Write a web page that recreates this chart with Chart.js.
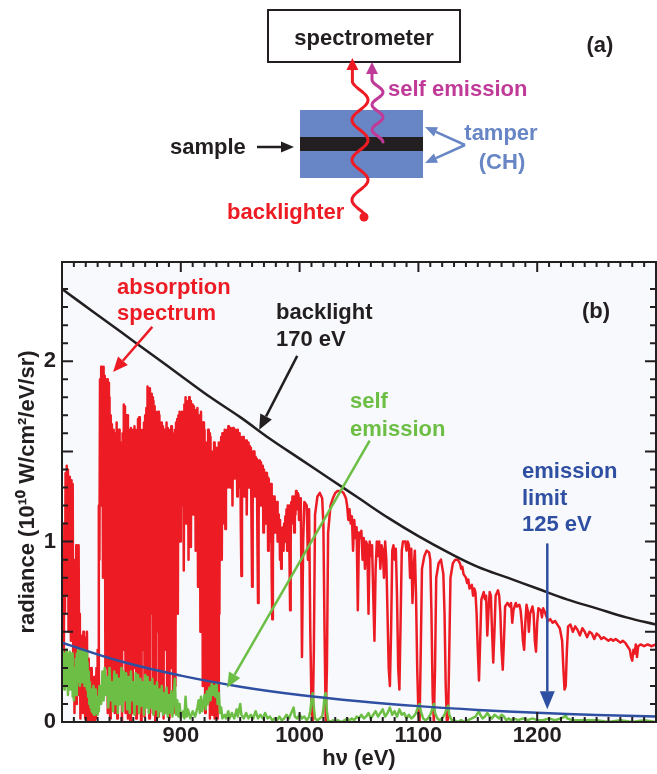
<!DOCTYPE html>
<html>
<head>
<meta charset="utf-8">
<script src="https://cdn.jsdelivr.net/npm/chart.js@4.4.1/dist/chart.umd.min.js"></script>
<style>
html, body { margin: 0; padding: 0; background: #fff; }
#wrap { position: relative; width: 657px; height: 774px; overflow: hidden; }
#chart { position: absolute; left: 0; top: 0; }
#scheme { position: absolute; left: 0; top: 0; }
#scheme text { font-family: 'Liberation Sans', Arial, Helvetica, sans-serif; font-weight: bold; font-size: 22px; }
</style>
</head>
<body>
<div id="wrap">
<canvas id="chart" width="657" height="774"></canvas>
<svg id="scheme" width="657" height="232" xmlns="http://www.w3.org/2000/svg">
  <rect x="268" y="10" width="192" height="52" fill="#fff" stroke="#231f20" stroke-width="2"/>
  <text x="364" y="45" text-anchor="middle" fill="#231f20">spectrometer</text>
  <text x="600" y="52" text-anchor="middle" fill="#231f20">(a)</text>
  <rect x="300" y="110" width="123" height="68" fill="#6886c5"/>
  <rect x="300" y="137" width="123" height="14" fill="#231f20"/>
  <text x="170" y="154" fill="#231f20">sample</text>
  <text x="388" y="96" fill="#c03b98">self emission</text>
  <text x="501" y="140" text-anchor="middle" fill="#6886c5">tamper</text>
  <text x="502" y="169" text-anchor="middle" fill="#6886c5">(CH)</text>
  <text x="227" y="219" fill="#ed1c24">backlighter</text>
  <circle cx="364" cy="217" r="4.5" fill="#ed1c24"/>
</svg>
</div>
<script>
// x axis / y axis labels
const xTickLabels = [900, 1000, 1100, 1200];
const yTickLabels = [0, 1, 2];

// backlight 170 eV curve [eV, radiance]
const backlight = [
  [800, 2.40], [825, 2.28], [850, 2.16], [875, 2.04], [900, 1.92], [925, 1.80], [950, 1.69],
  [975, 1.57], [1000, 1.46], [1025, 1.35], [1050, 1.24], [1075, 1.13], [1100, 1.03], [1125, 0.94],
  [1150, 0.86], [1175, 0.80], [1200, 0.74], [1225, 0.68], [1250, 0.63], [1275, 0.58], [1300, 0.54]
];

// emission limit 125 eV curve
const emissionLimit = [
  [800, 0.44], [850, 0.335], [900, 0.257], [950, 0.196], [1000, 0.150], [1050, 0.115],
  [1100, 0.088], [1150, 0.067], [1200, 0.051], [1250, 0.039], [1300, 0.030]
];

// absorption spectrum (red)
const absorption = [
[800,0.95],[800.5,0.40],[801,0.90],[801.5,0.30],[802,1.10],[802.5,0.60],[803,1.38],[803.5,0.90],[804,1.42],[804.5,0.70],
[805,1.40],[805.5,0.50],[806,1.36],[806.5,0.95],[807,1.30],[807.5,0.45],[808,1.34],[808.5,0.60],[809,1.32],[809.5,0.20],
[810,0.90],[810.5,0.05],[811,0.85],[811.5,0.30],[812,0.98],[812.5,0.10],[813,0.96],[813.5,0.40],[814,0.98],[814.5,0.15],
[815,0.60],[815.5,0.02],[816,0.45],[816.5,0.10],[817,0.48],[817.5,0.05],[818,0.50],[818.5,0.20],[819,0.47],[819.5,0.02],
[820,0.45],[820.5,0.15],[821,0.50],[821.5,0.00],[822,0.35],[822.5,0.05],[823,0.30],[823.5,0.00],[824,0.28],[824.5,0.10],
[825,0.30],[825.5,0.00],[826,0.20],[826.5,0.05],[827,0.25],[827.5,0.00],[828,0.22],[828.5,0.02],[829,0.30],[829.5,0.05],
[830,0.40],[830.5,0.10],[831,1.20],[831.5,0.90],
[832,1.90],[832.5,1.20],[833,1.97],[833.5,1.40],[834,1.95],[834.5,0.80],[835,1.97],[835.5,1.50],[836,1.92],[836.5,0.30],
[837,1.85],[837.5,1.10],[838,1.90],[838.5,0.05],[839,1.88],[839.5,0.60],[840,1.80],[840.5,0.02],[841,1.70],[841.5,1.00],
[842,1.65],[842.5,0.20],[843,1.62],[843.5,0.90],[844,1.60],[844.5,0.05],[845,1.55],[845.5,0.50],[846,1.66],[846.5,0.02],
[847,1.62],[847.5,1.10],[848,1.62],[848.5,0.10],[849,1.50],[849.5,0.70],[850,1.55],[850.5,0.00],[851,1.60],[851.5,0.40],
[852,1.76],[852.5,1.20],[853,1.75],[853.5,0.05],[854,1.70],[854.5,0.80],[855,1.70],[855.5,0.02],[856,1.62],[856.5,0.60],
[857,1.60],[857.5,0.00],[858,1.63],[858.5,1.00],[859,1.55],[859.5,0.05],[860,1.62],[860.5,0.30],[861,1.64],[861.5,1.10],
[862,1.62],[862.5,0.02],[863,1.60],[863.5,0.70],[864,1.68],[864.5,0.05],[865,1.69],[865.5,0.90],[866,1.62],[866.5,0.00],
[867,1.55],[867.5,0.40],[868,1.62],[868.5,1.20],[869,1.66],[869.5,0.03],[870,1.70],[870.5,0.80],[871,1.74],[871.5,0.10],
[872,1.86],[872.5,1.30],[873,1.84],[873.5,0.02],[874,1.85],[874.5,0.60],[875,1.82],[875.5,1.10],[876,1.80],[876.5,0.05],
[877,1.78],[877.5,0.90],[878,1.75],[878.5,0.00],[879,1.72],[879.5,0.50],[880,1.70],[880.5,1.20],[881,1.72],[881.5,0.03],
[882,1.70],[882.5,0.80],[883,1.66],[883.5,0.10],[884,1.66],[884.5,1.00],[885,1.64],[885.5,0.02],[886,1.62],[886.5,0.40],
[887,1.60],[887.5,1.10],[888,1.66],[888.5,0.05],[889,1.63],[889.5,0.70],[890,1.60],[890.5,0.02],[891,1.62],[891.5,1.20],
[892,1.64],[892.5,0.30],[893,1.60],[893.5,0.05],[894,1.58],[894.5,0.90],[895,1.62],[895.5,0.20],[896,1.66],[896.5,1.30],
[897,1.68],[897.5,0.60],[898,1.70],[898.5,1.40],[899,1.72],[899.5,1.00],
[900,1.70],[900.5,1.20],[901,1.72],[901.5,1.45],[902,1.60],[902.5,0.84],[903,1.76],[903.5,1.30],[904,1.80],[904.5,1.10],
[905,1.78],[905.5,1.50],[906,1.75],[906.5,0.90],[907,1.80],[907.5,1.35],[908,1.78],[908.5,0.97],[909,1.76],[909.5,1.40],
[910,1.76],[910.5,1.15],[911,1.75],[911.5,1.50],[912,1.72],[912.5,0.95],[913,1.73],[913.5,1.30],[914,1.74],[914.5,0.75],
[915,1.70],[915.5,1.20],[916,1.70],[916.5,0.50],[917,1.72],[917.5,1.00],[918,1.66],[918.5,0.20],[919,1.66],[919.5,0.80],
[920,1.62],[920.5,0.05],[921,1.55],[921.5,0.40],[922,1.55],[922.5,0.10],[923,1.62],[923.5,0.60],[924,1.60],[924.5,0.02],
[925,1.58],[925.5,0.30],[926,1.50],[926.5,0.04],[927,1.50],[927.5,0.50],[928,1.55],[928.5,0.02],[929,1.52],[929.5,0.20],
[930,1.52],[930.5,0.02],[931,1.45],[931.5,0.10],[932,1.55],[932.5,0.60],[933,1.55],[933.5,1.00],[934,1.58],[934.5,0.90],
[935,1.60],[935.5,1.25],[936,1.60],[936.5,1.10],[937,1.62],[937.5,1.07],[938,1.60],[938.5,1.40],[939,1.62],[939.5,1.30],
[940,1.64],[940.5,1.40],[941,1.62],[941.5,1.30],[942,1.63],[942.5,1.48],[943,1.62],[943.5,1.20],[944,1.63],[944.5,1.45],
[945,1.60],[945.5,1.35],[946,1.62],[946.5,1.50],[947,1.60],[947.5,1.25],[948,1.62],[948.5,1.45],[949,1.60],[949.5,1.30],
[950,1.58],[950.5,1.10],[951,0.81],[951.5,1.20],[952,1.58],[952.5,1.40],[953,1.58],[953.5,1.25],[954,1.56],[954.5,1.45],
[955,1.56],[955.5,1.15],[956,1.55],[956.5,1.40],[957,1.55],[957.5,1.30],[958,1.53],[958.5,1.45],[959,1.52],[959.5,1.10],
[960,0.75],[960.5,1.20],[961,1.50],[961.5,1.35],[962,1.50],[962.5,1.25],[963,1.47],[963.5,1.38],[964,1.46],[964.5,1.00],
[965,0.66],[965.5,1.10],[966,1.45],[966.5,1.30],[967,1.44],[967.5,1.20],[968,1.42],[968.5,1.35],[969,1.42],[969.5,1.05],
[970,1.40],[970.5,1.30],[971,1.38],[971.5,1.10],[972,1.38],[972.5,1.25],[973,1.36],[973.5,0.95],[974,1.35],[974.5,1.20],
[975,1.32],[975.5,1.00],[976,1.32],[976.5,0.80],[977,0.57],[977.5,0.90],[978,1.25],[978.5,1.10],[979,1.25],[979.5,1.05],
[980,1.20],[980.5,1.12],[981,1.22],[981.5,1.00],[982,1.15],[982.5,1.05],[983,1.12],[983.5,0.90],[984,1.08],[984.5,0.85],
[985,1.06],[985.5,0.97],[986,1.08],[986.5,0.95],[987,1.10],[987.5,1.00],[988,1.14],[988.5,1.05],[989,1.18],[989.5,0.95],
[990,1.20],[990.5,1.10],[991,1.20],[991.5,0.90],[992,0.62],[992.5,1.00],[993,1.22],[993.5,1.10],[994,1.25],[994.5,1.15],
[995,1.25],[995.5,1.05],[996,1.22],[996.5,1.15],[997,1.28],[997.5,1.18],[998,1.27],[998.5,1.20],[999,1.26],[999.5,1.12],
[1000,1.24],[1001,1.24],[1002,0.36],[1003,1.00],[1004,1.22],[1006,1.20],[1007,0.90],
[1008,1.18],[1009,0.50],[1010,0.10],[1011,0.00],[1012,0.40],[1013,1.15],[1015,1.25],[1017,1.27],[1019,1.24],[1020,1.10],
[1021,0.50],[1022,0.00],[1023,0.30],[1024,1.05],[1026,1.20],[1028,1.24],[1030,1.27],[1032,1.28],[1035,1.28],[1037,1.27],
[1039,1.24],[1040,1.20],[1041,1.12],[1042,1.18],[1043,1.10],[1044,1.14],[1045,0.95],[1046,1.12],[1047,1.02],[1048,1.08],
[1049,0.62],[1050,1.05],[1051,1.02],[1052,1.06],[1053,0.90],[1054,1.02],[1055,0.85],[1056,1.00],[1057,0.98],[1058,0.60],
[1059,1.00],[1060,0.92],[1061,0.98],[1062,0.70],[1063,0.45],[1064,0.85],[1065,1.00],[1066,0.92],[1067,1.00],[1068,0.85],
[1069,0.98],[1070,0.95],[1071,0.80],[1072,1.00],[1073,0.90],[1074,0.60],[1075,0.30],[1076,0.20],[1077,0.50],[1078,0.95],
[1079,0.98],[1080,0.90],[1081,0.96],[1082,0.70],[1083,0.30],[1084,0.18],[1085,0.55],[1086,0.95],[1087,1.00],[1089,1.00],
[1090,0.95],[1091,1.00],[1092,0.98],[1093,0.80],[1094,0.96],[1095,0.66],[1096,0.85],[1097,0.95],[1098,0.70],[1099,0.30],
[1100,0.05],[1101,0.00],[1102,0.40],[1103,0.85],[1105,0.92],[1107,0.95],[1109,0.94],[1110,0.90],[1111,0.60],[1112,0.15],
[1113,0.00],[1114,0.30],[1115,0.80],[1117,0.88],[1119,0.90],[1120,0.86],[1121,0.82],[1122,0.60],[1123,0.20],[1124,0.00],
[1125,0.02],[1126,0.40],[1127,0.80],[1129,0.88],[1131,0.90],[1133,0.90],[1135,0.88],[1136,0.85],[1137,0.86],[1138,0.82],
[1140,0.80],[1141,0.77],[1142,0.79],[1143,0.74],[1145,0.76],[1146,0.70],[1147,0.74],[1148,0.72],[1149,0.60],[1150,0.40],
[1151,0.23],[1152,0.45],[1153,0.68],[1155,0.72],[1156,0.68],[1157,0.70],[1158,0.48],[1159,0.62],[1160,0.72],[1161,0.70],
[1162,0.50],[1163,0.33],[1164,0.50],[1165,0.70],[1167,0.73],[1168,0.70],[1169,0.60],[1170,0.40],[1171,0.29],[1172,0.45],
[1173,0.64],[1175,0.66],[1177,0.64],[1178,0.66],[1179,0.55],[1180,0.62],[1182,0.66],[1183,0.64],[1185,0.65],[1186,0.62],
[1187,0.55],[1188,0.45],[1189,0.40],[1190,0.55],[1191,0.65],[1192,0.62],[1193,0.50],[1194,0.60],[1196,0.64],[1197,0.60],
[1198,0.45],[1199,0.39],[1200,0.55],[1201,0.63],[1203,0.62],[1204,0.58],[1205,0.63],[1207,0.60],[1209,0.56],[1211,0.57],
[1213,0.55],[1215,0.56],[1217,0.54],[1219,0.52],[1221,0.45],[1222,0.30],[1223,0.18],[1224,0.20],[1225,0.40],[1226,0.53],
[1228,0.54],[1230,0.50],[1232,0.53],[1234,0.51],[1236,0.48],[1238,0.52],[1240,0.50],[1242,0.47],[1244,0.50],[1246,0.49],
[1248,0.46],[1250,0.49],[1252,0.48],[1254,0.46],[1256,0.47],[1258,0.46],[1260,0.45],[1262,0.46],[1264,0.45],[1266,0.46],
[1268,0.45],[1270,0.44],[1272,0.45],[1274,0.44],[1276,0.42],[1278,0.40],[1279,0.36],[1280,0.34],[1281,0.40],[1282,0.38],
[1283,0.43],[1284,0.36],[1285,0.42],[1287,0.43],[1290,0.42],[1293,0.43],[1296,0.42],[1300,0.43]
];

// self emission (green)
const selfEmission = [
[800,0.28],[800.5,0.40],[801,0.22],[801.5,0.38],[802,0.18],[802.5,0.35],[803,0.25],[803.5,0.40],[804,0.20],[804.5,0.38],
[805,0.15],[805.5,0.36],[806,0.25],[806.5,0.39],[807,0.18],[807.5,0.33],[808,0.22],[808.5,0.38],[809,0.14],[809.5,0.30],
[810,0.12],[810.5,0.28],[811,0.20],[811.5,0.35],[812,0.15],[812.5,0.38],[813,0.22],[813.5,0.40],[814,0.25],[814.5,0.39],
[815,0.20],[815.5,0.37],[816,0.28],[816.5,0.40],[817,0.22],[817.5,0.38],[818,0.26],[818.5,0.40],[819,0.20],[819.5,0.36],
[820,0.25],[820.5,0.39],[821,0.18],[821.5,0.33],[822,0.14],[822.5,0.28],[823,0.10],[823.5,0.22],[824,0.08],[824.5,0.18],
[825,0.06],[825.5,0.15],[826,0.05],[826.5,0.20],[827,0.04],[827.5,0.14],[828,0.06],[828.5,0.18],[829,0.05],[829.5,0.12],
[830,0.04],[830.5,0.14],[831,0.06],[831.5,0.20],
[832,0.20],[833,0.10],[834,0.28],[835,0.12],[836,0.30],[837,0.15],[838,0.25],[839,0.08],
[840,0.30],[841,0.12],[842,0.22],[843,0.06],[844,0.28],[845,0.10],[846,0.26],[847,0.05],[848,0.24],[849,0.10],
[850,0.30],[851,0.06],[852,0.28],[853,0.12],[854,0.27],[855,0.07],[856,0.25],[857,0.05],[858,0.28],[859,0.12],
[860,0.22],[861,0.04],[862,0.27],[863,0.10],[864,0.26],[865,0.05],[866,0.24],[867,0.09],[868,0.22],[869,0.04],
[870,0.26],[871,0.08],[872,0.25],[873,0.05],[874,0.22],[875,0.08],[876,0.24],[877,0.04],[878,0.20],[879,0.07],
[880,0.22],[881,0.03],[882,0.18],[883,0.06],[884,0.20],[885,0.04],[886,0.16],[887,0.05],[888,0.19],[889,0.03],
[890,0.15],[891,0.05],[892,0.17],[893,0.03],[894,0.14],[895,0.24],[896,0.04],[897,0.12],[898,0.03],[899,0.10],
[900,0.02],[902,0.06],[903,0.02],[904,0.14],[905,0.03],[906,0.07],[908,0.02],[910,0.06],[912,0.03],[914,0.08],
[915,0.12],[916,0.05],[917,0.14],[918,0.06],[919,0.10],[920,0.15],[921,0.07],[922,0.17],[923,0.10],[924,0.19],
[925,0.12],[926,0.21],[927,0.15],[928,0.20],[929,0.14],[930,0.21],[931,0.10],[932,0.16],[933,0.05],[934,0.08],
[935,0.02],[937,0.04],[938,0.02],[940,0.06],[941,0.02],[943,0.05],[945,0.02],[947,0.07],[948,0.03],[950,0.10],
[951,0.04],[953,0.02],[955,0.05],[957,0.02],[959,0.04],[961,0.02],[963,0.06],[965,0.02],[967,0.04],[969,0.02],
[971,0.05],[973,0.02],[975,0.03],[977,0.01],[979,0.02],[981,0.01],[983,0.03],[985,0.01],[987,0.02],[989,0.04],
[991,0.02],[993,0.05],[995,0.08],[996,0.03],[998,0.02],[1000,0.04],[1002,0.02],[1004,0.03],[1006,0.01],[1008,0.03],
[1009,0.06],[1010,0.12],[1011,0.16],[1012,0.08],[1013,0.02],[1015,0.01],[1017,0.02],[1019,0.03],[1020,0.07],[1021,0.14],
[1022,0.16],[1023,0.06],[1024,0.01],[1026,0.00],[1028,0.01],[1030,0.00],[1032,0.01],[1035,0.00],[1038,0.01],[1040,0.02],
[1042,0.01],[1044,0.02],[1046,0.01],[1048,0.03],[1050,0.02],[1052,0.04],[1054,0.02],[1056,0.03],[1058,0.05],[1060,0.02],
[1062,0.04],[1064,0.06],[1066,0.03],[1068,0.05],[1070,0.07],[1072,0.03],[1074,0.05],[1076,0.08],[1078,0.04],[1080,0.06],
[1082,0.03],[1084,0.07],[1086,0.04],[1088,0.05],[1090,0.02],[1092,0.04],[1094,0.02],[1096,0.03],[1098,0.05],[1100,0.09],
[1101,0.10],[1102,0.06],[1104,0.02],[1106,0.01],[1108,0.02],[1110,0.04],[1112,0.08],[1113,0.10],[1114,0.05],[1116,0.02],
[1118,0.01],[1120,0.02],[1122,0.04],[1124,0.08],[1125,0.09],[1126,0.04],[1128,0.01],[1130,0.01],[1133,0.00],[1136,0.01],
[1139,0.00],[1142,0.01],[1145,0.02],[1148,0.03],[1150,0.05],[1151,0.06],[1152,0.04],[1154,0.02],[1156,0.03],[1158,0.05],
[1160,0.03],[1162,0.02],[1164,0.04],[1166,0.03],[1168,0.02],[1170,0.04],[1172,0.03],[1174,0.01],[1176,0.02],[1178,0.01],
[1180,0.02],[1184,0.01],[1188,0.02],[1192,0.01],[1196,0.02],[1200,0.01],[1205,0.01],[1210,0.02],[1215,0.01],[1220,0.02],
[1223,0.03],[1224,0.04],[1225,0.02],[1230,0.01],[1235,0.01],[1240,0.01],[1250,0.01],[1260,0.00],[1270,0.01],[1280,0.00],
[1290,0.01],[1300,0.00]
];

const FONT = "'Liberation Sans', Arial, Helvetica, sans-serif";
const INK = '#231f20';
const RED = '#ed1c24', GREEN = '#6cbe45', BLUE = '#2f4fa2';

// ---------- schematic (a) ----------
const svg = document.getElementById('scheme');
const NS = 'http://www.w3.org/2000/svg';

function svgEl(tag, attrs) {
    const el = document.createElementNS(NS, tag);
    for (const k in attrs) el.setAttribute(k, attrs[k]);
    svg.appendChild(el);
    return el;
}

function svgArrow(x0, y0, x1, y1, color, w, hl, hw) {
    const a = Math.atan2(y1 - y0, x1 - x0);
    const bx = x1 - hl * Math.cos(a), by = y1 - hl * Math.sin(a);
    svgEl('line', { x1: x0, y1: y0, x2: bx, y2: by, stroke: color, 'stroke-width': w });
    const px = Math.sin(a) * hw / 2, py = -Math.cos(a) * hw / 2;
    svgEl('polygon', { points: `${x1},${y1} ${bx + px},${by + py} ${bx - px},${by - py}`, fill: color });
}

function wave(cx, amp, period, phaseY, yStart, yEnd, tipY, color) {
    let d = '';
    for (let y = yStart; y >= yEnd; y -= 1) {
        const x = cx - amp * Math.sin(2 * Math.PI * (y - phaseY) / period);
        d += (d ? ' L' : 'M') + x.toFixed(1) + ',' + y;
    }
    const xe = cx - amp * Math.sin(2 * Math.PI * (yEnd - phaseY) / period);
    d += ` L${xe.toFixed(1)},${tipY + 10}`;
    svgEl('path', { d: d, fill: 'none', stroke: color, 'stroke-width': 3, 'stroke-linecap': 'round', 'stroke-linejoin': 'round' });
    svgEl('polygon', { points: `${xe},${tipY} ${xe - 6},${tipY + 12} ${xe + 6},${tipY + 12}`, fill: color });
}

wave(360, 8, 40, 190, 215, 82, 58, RED);
wave(377.5, 5.5, 25, 123.5, 142, 80, 62, '#c03b98');
svgArrow(257, 147, 294, 147, INK, 2.5, 13, 11);
svgArrow(465, 145, 425, 127, '#6886c5', 2.5, 12, 10);
svgArrow(465, 145, 425, 163, '#6886c5', 2.5, 12, 10);

// ---------- chart (b) ----------
function chartArrow(ctx, x0, y0, x1, y1, color, w, hl, hw) {
    const a = Math.atan2(y1 - y0, x1 - x0);
    const bx = x1 - hl * Math.cos(a), by = y1 - hl * Math.sin(a);
    ctx.strokeStyle = color;
    ctx.lineWidth = w;
    ctx.beginPath();
    ctx.moveTo(x0, y0);
    ctx.lineTo(bx, by);
    ctx.stroke();
    const px = Math.sin(a) * hw / 2, py = -Math.cos(a) * hw / 2;
    ctx.fillStyle = color;
    ctx.beginPath();
    ctx.moveTo(x1, y1);
    ctx.lineTo(bx + px, by + py);
    ctx.lineTo(bx - px, by - py);
    ctx.closePath();
    ctx.fill();
}

const framePlugin = {
    id: 'frame',
    beforeDatasetsDraw(chart) {
        const { ctx, chartArea: a } = chart;
        ctx.save();
        ctx.fillStyle = '#f8f9fc';
        ctx.fillRect(a.left, a.top, a.right - a.left, a.bottom - a.top);
        ctx.restore();
    },
    afterDatasetsDraw(chart) {
        const { ctx, chartArea: a, scales: { x, y } } = chart;
        ctx.save();
        ctx.strokeStyle = INK;
        ctx.lineWidth = 2;
        ctx.beginPath();
        x.ticks.forEach(t => {
            const v = Math.round(t.value);
            if (v % 10 || v <= 800 || v >= 1300) return;
            const px = x.getPixelForValue(v);
            const len = v % 100 === 0 ? 10 : 5;
            ctx.moveTo(px, a.bottom); ctx.lineTo(px, a.bottom - len);
            ctx.moveTo(px, a.top); ctx.lineTo(px, a.top + len);
        });
        y.ticks.forEach(t => {
            const v = Math.round(t.value * 10);
            if (Math.abs(t.value * 10 - v) > 1e-6 || v <= 0 || v >= 26) return;
            const py = y.getPixelForValue(v / 10);
            const len = v % 5 === 0 ? 11 : 6;
            ctx.moveTo(a.left, py); ctx.lineTo(a.left + len, py);
            ctx.moveTo(a.right, py); ctx.lineTo(a.right - len, py);
        });
        ctx.stroke();
        ctx.strokeRect(a.left, a.top, a.right - a.left, a.bottom - a.top);
        ctx.restore();
    },
    afterDraw(chart) {
        const { ctx, scales: { x, y } } = chart;
        const P = (e, v) => [x.getPixelForValue(e), y.getPixelForValue(v)];
        ctx.save();
        // arrows
        chartArrow(ctx, ...P(876, 2.19), ...P(843, 1.94), RED, 2.5, 15, 13);
        chartArrow(ctx, ...P(998, 2.03), ...P(966, 1.62), INK, 2.5, 15, 13);
        chartArrow(ctx, ...P(1059, 1.56), ...P(939, 0.19), GREEN, 2.5, 15, 13);
        chartArrow(ctx, ...P(1208.5, 0.99), ...P(1208.5, 0.07), BLUE, 2.5, 18, 15);
        // labels
        ctx.font = 'bold 22px ' + FONT;
        ctx.textBaseline = 'middle';
        ctx.textAlign = 'left';
        ctx.fillStyle = RED;
        ctx.fillText('absorption', 117, 288);
        ctx.fillText('spectrum', 117, 314);
        ctx.fillStyle = INK;
        ctx.fillText('backlight', 276, 313);
        ctx.fillText('170 eV', 276, 340);
        ctx.fillText('(b)', 582, 312);
        ctx.fillStyle = GREEN;
        ctx.fillText('self', 350, 402);
        ctx.fillText('emission', 350, 430);
        ctx.fillStyle = BLUE;
        ctx.fillText('emission', 522, 472);
        ctx.fillText('limit', 522, 499);
        ctx.fillText('125 eV', 522, 525);
        ctx.restore();
    }
};

const toXY = arr => arr.map(p => ({ x: p[0], y: p[1] }));
const tickFont = { family: FONT, size: 22, weight: 'bold' };

Chart.defaults.font.family = FONT;

new Chart(document.getElementById('chart'), {
    type: 'line',
    data: {
        datasets: [
            { label: 'emission limit 125 eV', data: toXY(emissionLimit), borderColor: BLUE, borderWidth: 2.5, tension: 0.4, order: 0 },
            { label: 'backlight 170 eV', data: toXY(backlight), borderColor: INK, borderWidth: 2.5, tension: 0.4, order: 1 },
            { label: 'self emission', data: toXY(selfEmission), borderColor: GREEN, borderWidth: 2.5, tension: 0, order: 2 },
            { label: 'absorption spectrum', data: toXY(absorption), borderColor: RED, borderWidth: 2.5, tension: 0, order: 3 }
        ]
    },
    options: {
        responsive: false,
        animation: false,
        devicePixelRatio: 1,
        layout: { padding: { top: 262, left: 0, right: 1, bottom: 0 } },
        elements: { point: { radius: 0 }, line: { borderJoinStyle: 'round' } },
        plugins: { legend: { display: false }, tooltip: { enabled: false } },
        scales: {
            x: {
                type: 'linear',
                min: 800,
                max: 1300,
                afterFit: s => { s.height = 52; },
                grid: { display: false, drawTicks: false },
                border: { display: false },
                ticks: {
                    stepSize: 10,
                    autoSkip: false,
                    maxRotation: 0,
                    padding: 1,
                    color: INK,
                    font: tickFont,
                    callback: v => xTickLabels.includes(Math.round(v)) ? String(Math.round(v)) : ''
                },
                title: { display: true, text: 'hν (eV)', color: INK, font: { family: FONT, size: 22, weight: 'bold' }, padding: { top: 0, bottom: 2 } }
            },
            y: {
                min: 0,
                max: 2.55,
                afterFit: s => { s.width = 62; },
                grid: { display: false, drawTicks: false },
                border: { display: false },
                ticks: {
                    stepSize: 0.1,
                    autoSkip: false,
                    padding: 6,
                    color: INK,
                    font: tickFont,
                    callback: v => {
                        const r = Math.round(v * 10) / 10;
                        return yTickLabels.includes(r) && Math.abs(v - r) < 1e-6 ? String(r) : '';
                    }
                },
                title: { display: true, text: 'radiance (10¹⁰ W/cm²/eV/sr)', color: INK, font: { family: FONT, size: 22, weight: 'bold' }, padding: { top: 15, bottom: 0 } }
            }
        }
    },
    plugins: [framePlugin]
});
</script>
</body>
</html>
